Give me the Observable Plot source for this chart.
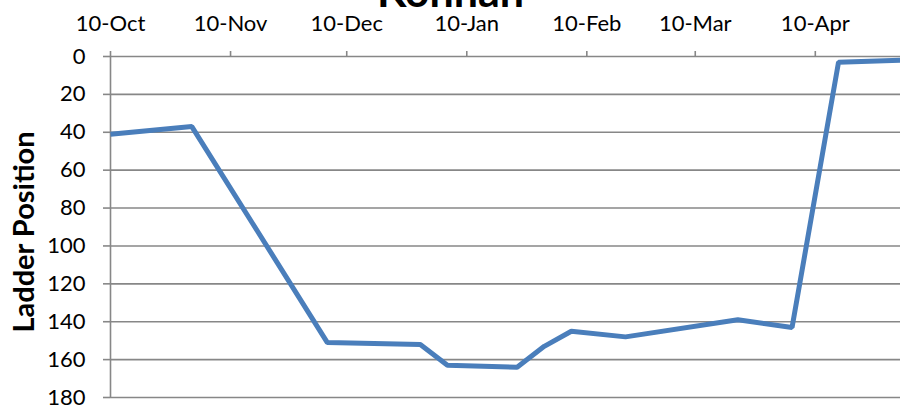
<!DOCTYPE html>
<html>
<head>
<meta charset="utf-8">
<script src="https://cdn.jsdelivr.net/npm/d3@7"></script>
<script src="https://cdn.jsdelivr.net/npm/@observablehq/plot@0.6"></script>
<style>
  html, body { margin: 0; padding: 0; background: #fff; }
  #chart { width: 900px; height: 412px; overflow: hidden; }
</style>
</head>
<body>
<div id="chart"></div>
<script>
const title = "Kohnan";
const yLabel = "Ladder Position";
const dates = ["2010-10-10","2010-10-31","2010-12-05","2010-12-29","2011-01-05","2011-01-23","2011-01-30","2011-02-06","2011-02-20","2011-03-21","2011-04-04","2011-04-16","2011-05-02"];
const positions = [41, 37, 151, 152, 163, 164, 153, 145, 148, 139, 143, 3, 2];
const xTickDates = ["2010-10-10","2010-11-10","2010-12-10","2011-01-10","2011-02-10","2011-03-10","2011-04-10"];
const xTickLabels = ["10-Oct","10-Nov","10-Dec","10-Jan","10-Feb","10-Mar","10-Apr"];
const yTicks = [0,20,40,60,80,100,120,140,160,180];

const data = dates.map((d, i) => ({date: new Date(d + "T00:00:00Z"), pos: positions[i]}));
const tickDates = xTickDates.map(d => new Date(d + "T00:00:00Z"));
const labelOf = new Map(tickDates.map((d, i) => [+d, xTickLabels[i]]));

const font = "Lato, 'Open Sans', sans-serif";
const grey = "#878787";

const chart = Plot.plot({
  width: 900,
  height: 412,
  marginTop: 56,
  marginBottom: 15,
  marginLeft: 110,
  marginRight: 0,
  style: {fontFamily: font, fontSize: "22px", color: "#000", background: "#fff", overflow: "hidden"},
  x: {type: "utc", domain: [new Date("2010-10-10T00:00:00Z"), new Date("2011-05-02T00:00:00Z")]},
  y: {domain: [0, 180], reverse: true},
  marks: [
    Plot.gridY(yTicks, {stroke: grey, strokeOpacity: 1, strokeWidth: 1.6}),
    Plot.ruleX([new Date("2010-10-10T00:00:00Z")], {stroke: grey, strokeWidth: 1.6}),
    Plot.axisY(yTicks, {tickSize: 7, tickPadding: 18, stroke: grey, strokeWidth: 1.6, fill: "#000", label: null, fontSize: 22}),
    Plot.axisX(tickDates, {anchor: "top", tickSize: 6, tickPadding: 20, stroke: grey, strokeWidth: 1.6, fill: "#000", label: null, fontSize: 22, tickFormat: d => labelOf.get(+d)}),
    Plot.line(data, {x: "date", y: "pos", stroke: "#4A7EBB", strokeWidth: 5, strokeLinejoin: "miter", strokeLinecap: "butt", clip: true}),
    Plot.text([title], {frameAnchor: "top", dy: -50, dx: -55, text: d => d, fontSize: 43, fontWeight: "bold", fill: "#000", lineAnchor: "bottom"}),
    Plot.text([yLabel], {frameAnchor: "left", dx: -85.5, dy: 5, rotate: -90, textAnchor: "middle", text: d => d, fontSize: 29, fontWeight: "bold", fill: "#000"})
  ]
});
document.getElementById("chart").appendChild(chart);
</script>
</body>
</html>
